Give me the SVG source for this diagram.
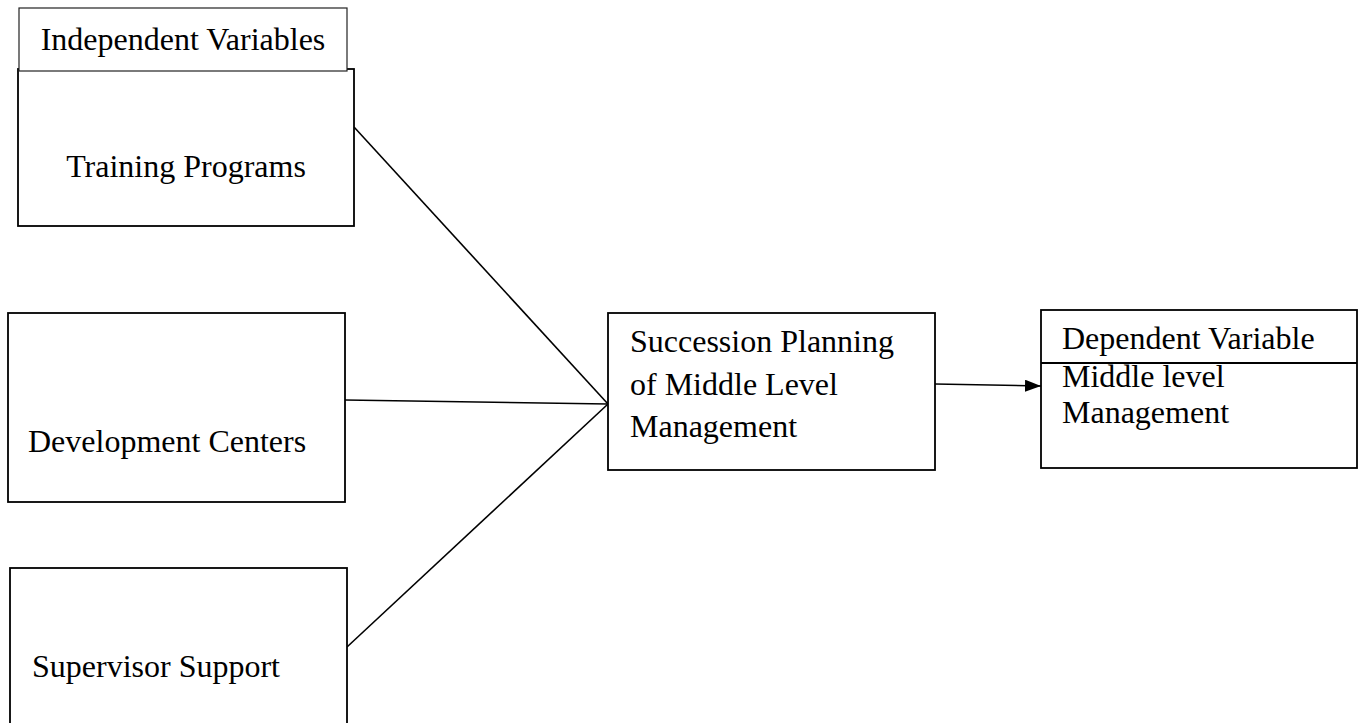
<svg xmlns="http://www.w3.org/2000/svg" width="1359" height="723" viewBox="0 0 1359 723">
<defs>
<style>
.box{fill:#fff;stroke:#000;stroke-width:1.8}
.thin{fill:#fff;stroke:#222;stroke-width:1.2}
.t{font-family:"Liberation Serif","Times New Roman",serif;font-size:32px;fill:#000}
.c{fill:none;stroke:#000;stroke-width:1.6}
</style>
<marker id="arr" markerWidth="16" markerHeight="12" refX="16" refY="6" orient="auto" markerUnits="userSpaceOnUse">
<path d="M0,0 L16,6 L0,12 Z" fill="#000"/>
</marker>
</defs>
<g id="connectors">
<line class="c" x1="354" y1="127" x2="608" y2="404"/>
<line class="c" x1="345" y1="400" x2="608" y2="404"/>
<line class="c" x1="347" y1="647" x2="608" y2="404"/>
<line class="c" x1="935" y1="384" x2="1041" y2="386" stroke-width="2.4" marker-end="url(#arr)"/>
</g>
<g id="training">
<rect class="box" x="18" y="69" width="336" height="157"/>
<text class="t" x="186" y="177" text-anchor="middle">Training Programs</text>
</g>
<g id="independent-label">
<rect class="thin" x="19" y="8" width="328" height="63"/>
<text class="t" x="183" y="50" text-anchor="middle">Independent Variables</text>
</g>
<g id="development">
<rect class="box" x="8" y="313" width="337" height="189"/>
<text class="t" x="28" y="452">Development Centers</text>
</g>
<g id="supervisor">
<rect class="box" x="10" y="568" width="337" height="170"/>
<text class="t" x="32" y="677">Supervisor Support</text>
</g>
<g id="succession">
<rect class="box" x="608" y="313" width="327" height="157"/>
<text class="t" x="630" y="352">Succession Planning</text>
<text class="t" x="630" y="395">of Middle Level</text>
<text class="t" x="630" y="437">Management</text>
</g>
<g id="dependent">
<rect class="box" x="1041" y="310" width="316" height="158"/>
<line x1="1041" y1="363" x2="1357" y2="363" stroke="#000" stroke-width="1.8"/>
<text class="t" x="1062" y="349">Dependent Variable</text>
<text class="t" x="1062" y="387">Middle level</text>
<text class="t" x="1062" y="423">Management</text>
</g>
</svg>
